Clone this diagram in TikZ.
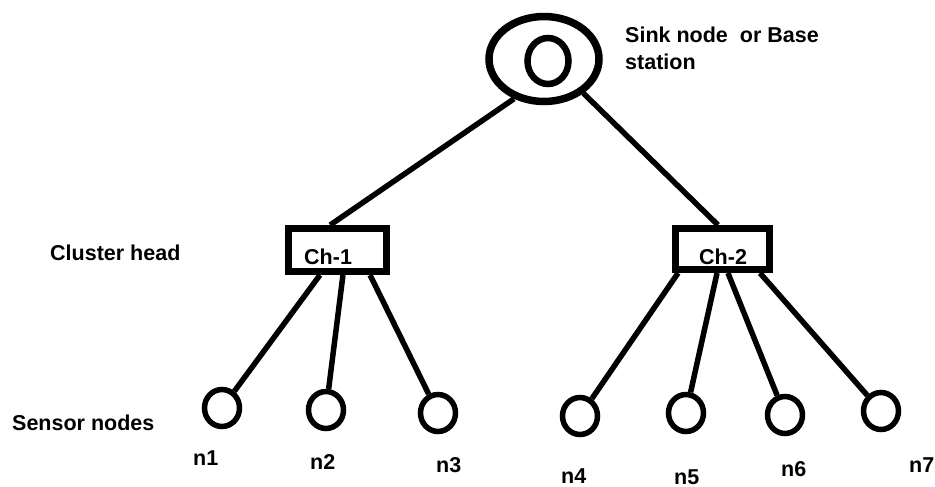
\documentclass[tikz,border=0pt]{standalone}
\usepackage{fontspec}
\setmainfont{Liberation Sans}
\usetikzlibrary{shapes.geometric,calc}
\begin{document}
\begin{tikzpicture}[x=1pt,y=-1pt,
  lbl/.style={font=\fontsize{21.5}{27}\selectfont\bfseries, inner sep=0pt, anchor=base west},
  sensor/.style={draw, ellipse, line width=5.5pt, minimum width=35pt, minimum height=37pt, inner sep=0pt},
  chbox/.style={draw, rectangle, line width=7pt, inner sep=0pt},
  link/.style={line width=5.5pt}]
\useasboundingbox[fill=white] (0,0) rectangle (935,487);

% sink
\node[draw, ellipse, line width=7.5pt, minimum width=110pt, minimum height=85pt, inner sep=0pt] (sink) at (544,59) {};
\node[draw, ellipse, line width=6.5pt, minimum width=41pt, minimum height=46pt, inner sep=0pt] (sinkin) at (548,61) {};
\node[lbl, align=left, anchor=north west] (sinklbl) at (625,27) {Sink node~~or Base\\station};

% cluster heads
\node[chbox, minimum width=98pt, minimum height=43pt] (ch1) at (337.5,250) {};
\node[chbox, minimum width=94pt, minimum height=41pt] (ch2) at (722.5,249) {};
\node[lbl] (ch1t) at (304,264) {Ch-1};
\node[lbl] (ch2t) at (699,264) {Ch-2};

% side labels
\node[lbl] (clusterlbl) at (50,260) {Cluster head};
\node[lbl] (sensorlbl) at (12,430) {Sensor nodes};

% sensors
\node[sensor] (n1) at (222,408) {};
\node[sensor] (n2) at (326,410) {};
\node[sensor] (n3) at (438,413) {};
\node[sensor] (n4) at (580,416) {};
\node[sensor] (n5) at (686,413) {};
\node[sensor] (n6) at (785,415) {};
\node[sensor] (n7) at (881,411) {};

\node[lbl] (l1) at (193,465) {n1};
\node[lbl] (l2) at (310,469) {n2};
\node[lbl] (l3) at (436,472) {n3};
\node[lbl] (l4) at (561,483) {n4};
\node[lbl] (l5) at (674,484) {n5};
\node[lbl] (l6) at (781,476) {n6};
\node[lbl] (l7) at (909,472) {n7};

% connectors
\draw[link] (sink.233) -- ($(ch1.north west)!0.43!(ch1.north east)$);
\draw[link] (sink.319) -- ($(ch2.north west)!0.455!(ch2.north east)$);

\draw[link] ($(ch1.south west)!0.333!(ch1.south east)$) -- (n1);
\draw[link] ($(ch1.south west)!0.552!(ch1.south east)$) -- (n2);
\draw[link] ($(ch1.south west)!0.81!(ch1.south east)$) -- (n3);

\draw[link] ($(ch2.south west)!0.06!(ch2.south east)$) -- (n4);
\draw[link] ($(ch2.south west)!0.446!(ch2.south east)$) -- (n5);
\draw[link] ($(ch2.south west)!0.554!(ch2.south east)$) -- (n6);
\draw[link] ($(ch2.south west)!0.871!(ch2.south east)$) -- (n7);
\end{tikzpicture}
\end{document}
